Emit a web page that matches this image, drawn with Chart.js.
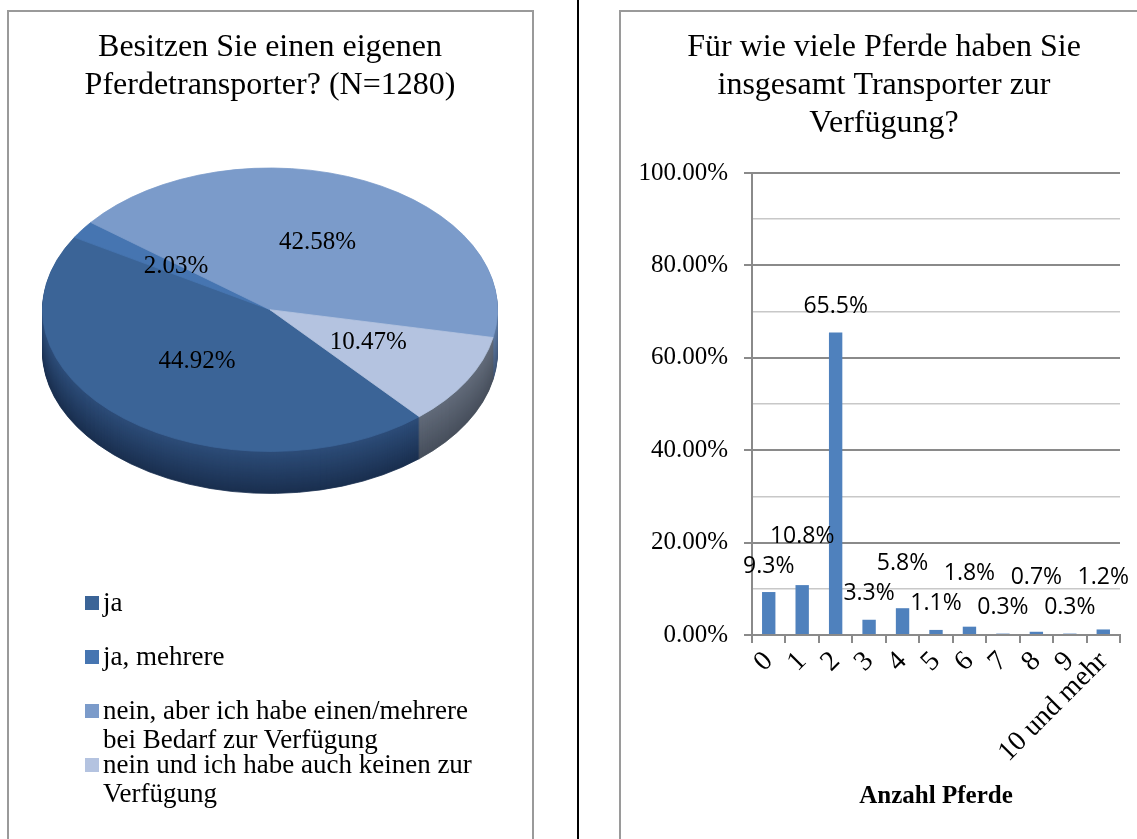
<!DOCTYPE html>
<html>
<head>
<meta charset="utf-8">
<script src="https://cdn.jsdelivr.net/npm/chart.js@4.4.0/dist/chart.umd.min.js"></script>
<style>
  html, body { margin: 0; padding: 0; background: #fff; }
  body { width: 1137px; height: 839px; position: relative; overflow: hidden; font-family: 'Liberation Serif', serif; }
  .panel { position: absolute; border: 2px solid #9a9a9a; box-sizing: border-box; }
  #panelLeft { left: 7px; top: 10px; width: 527px; height: 900px; }
  #panelRight { left: 619px; top: 10px; width: 600px; height: 900px; }
  #divider { position: absolute; left: 577px; top: 0; width: 2px; height: 839px; background: #000; }
  #pieWrap { position: absolute; left: 9px; top: 11px; width: 523px; height: 828px; }
  #barWrap { position: absolute; left: 621px; top: 11px; width: 516px; height: 828px; }
  #pieLegend { position: absolute; left: 85px; top: 588px; width: 400px; font-size: 27px; line-height: 29px; color: #000; }
  #pieLegend .item { height: 54px; position: relative; padding-left: 18px; }
  #pieLegend .swatch { position: absolute; left: 0; top: 8px; width: 14px; height: 14px; }
</style>
</head>
<body>
<div class="panel" id="panelLeft"></div>
<div class="panel" id="panelRight"></div>
<div id="divider"></div>
<div id="pieWrap"><canvas id="pieChart"></canvas></div>
<div id="pieLegend"></div>
<div id="barWrap"><canvas id="barChart"></canvas></div>

<script>
// Left chart: own horse transporter
const pieTitle = ['Besitzen Sie einen eigenen', 'Pferdetransporter? (N=1280)'];
const pieLabels = [
  'ja',
  'ja, mehrere',
  'nein, aber ich habe einen/mehrere bei Bedarf zur Verfügung',
  'nein und ich habe auch keinen zur Verfügung'
];
const pieValues = [44.92, 2.03, 42.58, 10.47];
const pieColors = ['#3b6497', '#4675b1', '#7b9bca', '#b4c3e0'];
const pieSideTop = ['#2d4d79', '#37598a', '#5d7aa3', '#626b7a'];
const pieSideBottom = ['#1a2f4f', '#22395a', '#3f5475', '#474f5c'];

// Right chart: number of horses with transport available
const barTitle = ['Für wie viele Pferde haben Sie', 'insgesamt Transporter zur', 'Verfügung?'];
const barLabels = ['0', '1', '2', '3', '4', '5', '6', '7', '8', '9', '10 und mehr'];
const barValues = [9.3, 10.8, 65.5, 3.3, 5.8, 1.1, 1.8, 0.3, 0.7, 0.3, 1.2];
const barAxisTitle = 'Anzahl Pferde';

const SERIF = '"Liberation Serif", "Times New Roman", serif';
const TILT = 0.623;   // vertical squash of the pie
const DEPTH = 42;     // thickness of the pie side in px

function mixColor(a, b, t) {
  const ca = [1, 3, 5].map(i => parseInt(a.substr(i, 2), 16));
  const cb = [1, 3, 5].map(i => parseInt(b.substr(i, 2), 16));
  return 'rgb(' + ca.map((v, i) => Math.round(v + (cb[i] - v) * t)).join(',') + ')';
}

/**
 * Fake 3D pie: draws the extruded side, squashes the top face, puts value labels on it
 */
const pie3dPlugin = {
  id: 'pie3d',
  beforeDatasetsDraw(chart) {
    const arcs = chart.getDatasetMeta(0).data;
    if (!arcs.length) return;
    const ctx = chart.ctx;
    const { x, y, outerRadius: r } = arcs[0];
    const cy = chart.chartArea.top + r * TILT;
    chart.$pie3d = { x, cy, r, active: true };

    for (let d = DEPTH; d >= 1; d--) {
      ctx.save();
      ctx.translate(x, cy + d);
      ctx.scale(1, TILT);
      arcs.forEach((arc, i) => {
        const c = mixColor(pieSideTop[i], pieSideBottom[i], d / DEPTH);
        ctx.beginPath();
        ctx.moveTo(0, 0);
        ctx.arc(0, 0, r, arc.startAngle, arc.endAngle);
        ctx.closePath();
        ctx.fillStyle = c;
        ctx.strokeStyle = c;
        ctx.lineWidth = 1;
        ctx.fill();
        ctx.stroke();
      });
      ctx.restore();
    }

    ctx.save();
    ctx.translate(x, cy);
    ctx.scale(1, TILT);
    ctx.translate(-x, -y);
  },
  afterDatasetsDraw(chart) {
    const st = chart.$pie3d;
    if (!st || !st.active) return;
    const ctx = chart.ctx;
    ctx.restore();
    st.active = false;

    const arcs = chart.getDatasetMeta(0).data;
    ctx.save();
    ctx.font = '25px ' + SERIF;
    ctx.fillStyle = '#000';
    ctx.textAlign = 'center';
    ctx.textBaseline = 'middle';
    arcs.forEach((arc, i) => {
      const a = (arc.startAngle + arc.endAngle) / 2;
      const lx = st.x + st.r * 0.5 * Math.cos(a);
      const ly = st.cy + st.r * TILT * 0.5 * Math.sin(a) - 3;
      ctx.fillText(pieValues[i].toFixed(2) + '%', lx, ly);
    });
    ctx.restore();
  }
};

/**
 * Value labels above the bars, lifted when they would collide with the previous one
 */
const barLabelPlugin = {
  id: 'barLabels',
  afterDatasetsDraw(chart) {
    const ctx = chart.ctx;
    const bars = chart.getDatasetMeta(0).data;
    ctx.save();
    ctx.font = '23px "Open Sans", "Noto Sans", sans-serif';
    ctx.fillStyle = '#000';
    ctx.textAlign = 'center';
    ctx.textBaseline = 'middle';
    let prev = null;
    bars.forEach((bar, i) => {
      const text = barValues[i].toFixed(1) + '%';
      const w = ctx.measureText(text).width;
      let y = bar.y - 26;
      if (prev && Math.abs(bar.x - prev.x) < (w + prev.w) / 2 && Math.abs(y - prev.y) < 22) {
        y = prev.y - 30;
      }
      ctx.fillText(text, bar.x, y);
      prev = { x: bar.x, y, w };
    });
    ctx.restore();
  }
};

function renderLegend() {
  const box = document.getElementById('pieLegend');
  pieLabels.forEach((label, i) => {
    const item = document.createElement('div');
    item.className = 'item';
    const sw = document.createElement('span');
    sw.className = 'swatch';
    sw.style.background = pieColors[i];
    item.appendChild(sw);
    item.appendChild(document.createTextNode(label));
    box.appendChild(item);
  });
}

function renderPieChart() {
  return new Chart(document.getElementById('pieChart'), {
    type: 'pie',
    data: {
      labels: pieLabels,
      datasets: [{
        data: pieValues,
        backgroundColor: pieColors,
        borderColor: pieColors,
        borderWidth: 1
      }]
    },
    options: {
      responsive: true,
      maintainAspectRatio: false,
      animation: false,
      rotation: 139,
      layout: { padding: { left: 33, right: 34, top: 0, bottom: 215 } },
      plugins: {
        legend: { display: false },
        tooltip: { enabled: false },
        title: {
          display: true,
          text: pieTitle,
          color: '#000',
          font: { family: SERIF, size: 32, weight: 'normal', lineHeight: 1.1875 },
          padding: { top: 18, bottom: 63 }
        }
      }
    },
    plugins: [pie3dPlugin]
  });
}

function renderBarChart() {
  const major = v => v % 20 === 0;
  return new Chart(document.getElementById('barChart'), {
    type: 'bar',
    data: {
      labels: barLabels,
      datasets: [{
        data: barValues,
        backgroundColor: '#4f81bd',
        barPercentage: 0.4,
        categoryPercentage: 1
      }]
    },
    options: {
      responsive: true,
      maintainAspectRatio: false,
      animation: false,
      layout: { padding: { left: 10, right: 0, top: 0, bottom: 0 } },
      plugins: {
        legend: { display: false },
        tooltip: { enabled: false },
        title: {
          display: true,
          text: barTitle,
          color: '#000',
          font: { family: SERIF, size: 32, weight: 'normal', lineHeight: 1.1875 },
          padding: { top: 18, bottom: 30 }
        }
      },
      scales: {
        x: {
          grid: { offset: true, drawOnChartArea: false, tickLength: 8, color: '#8a8a8a', lineWidth: 2 },
          border: { color: '#8a8a8a', width: 2 },
          ticks: {
            autoSkip: false,
            minRotation: 45,
            maxRotation: 45,
            color: '#000',
            padding: 2,
            font: { family: SERIF, size: 28 }
          },
          title: {
            display: true,
            text: barAxisTitle,
            color: '#000',
            font: { family: SERIF, size: 25, weight: 'bold' },
            padding: { top: 0, bottom: 27 }
          },
          afterFit(scale) { scale.height = 204; }
        },
        y: {
          min: 0,
          max: 100,
          grid: {
            color: c => major(c.tick.value) ? '#8a8a8a' : '#c8c8c8',
            lineWidth: c => major(c.tick.value) ? 2 : 1.5,
            tickColor: c => major(c.tick.value) ? '#8a8a8a' : 'rgba(0,0,0,0)',
            tickLength: 8
          },
          border: { color: '#8a8a8a', width: 2 },
          ticks: {
            stepSize: 10,
            color: '#000',
            padding: 16,
            font: { family: SERIF, size: 25 },
            callback: v => major(v) ? v.toFixed(2) + '%' : ''
          },
          afterFit(scale) { scale.width = 121; }
        },
        // empty spacer on the right so the plot ends short of the panel edge
        yRight: {
          position: 'right',
          display: true,
          grid: { display: false },
          border: { display: false },
          ticks: { display: false },
          afterFit(scale) { scale.width = 17; }
        }
      }
    },
    plugins: [barLabelPlugin]
  });
}

renderLegend();
renderPieChart();
renderBarChart();
</script>
</body>
</html>
